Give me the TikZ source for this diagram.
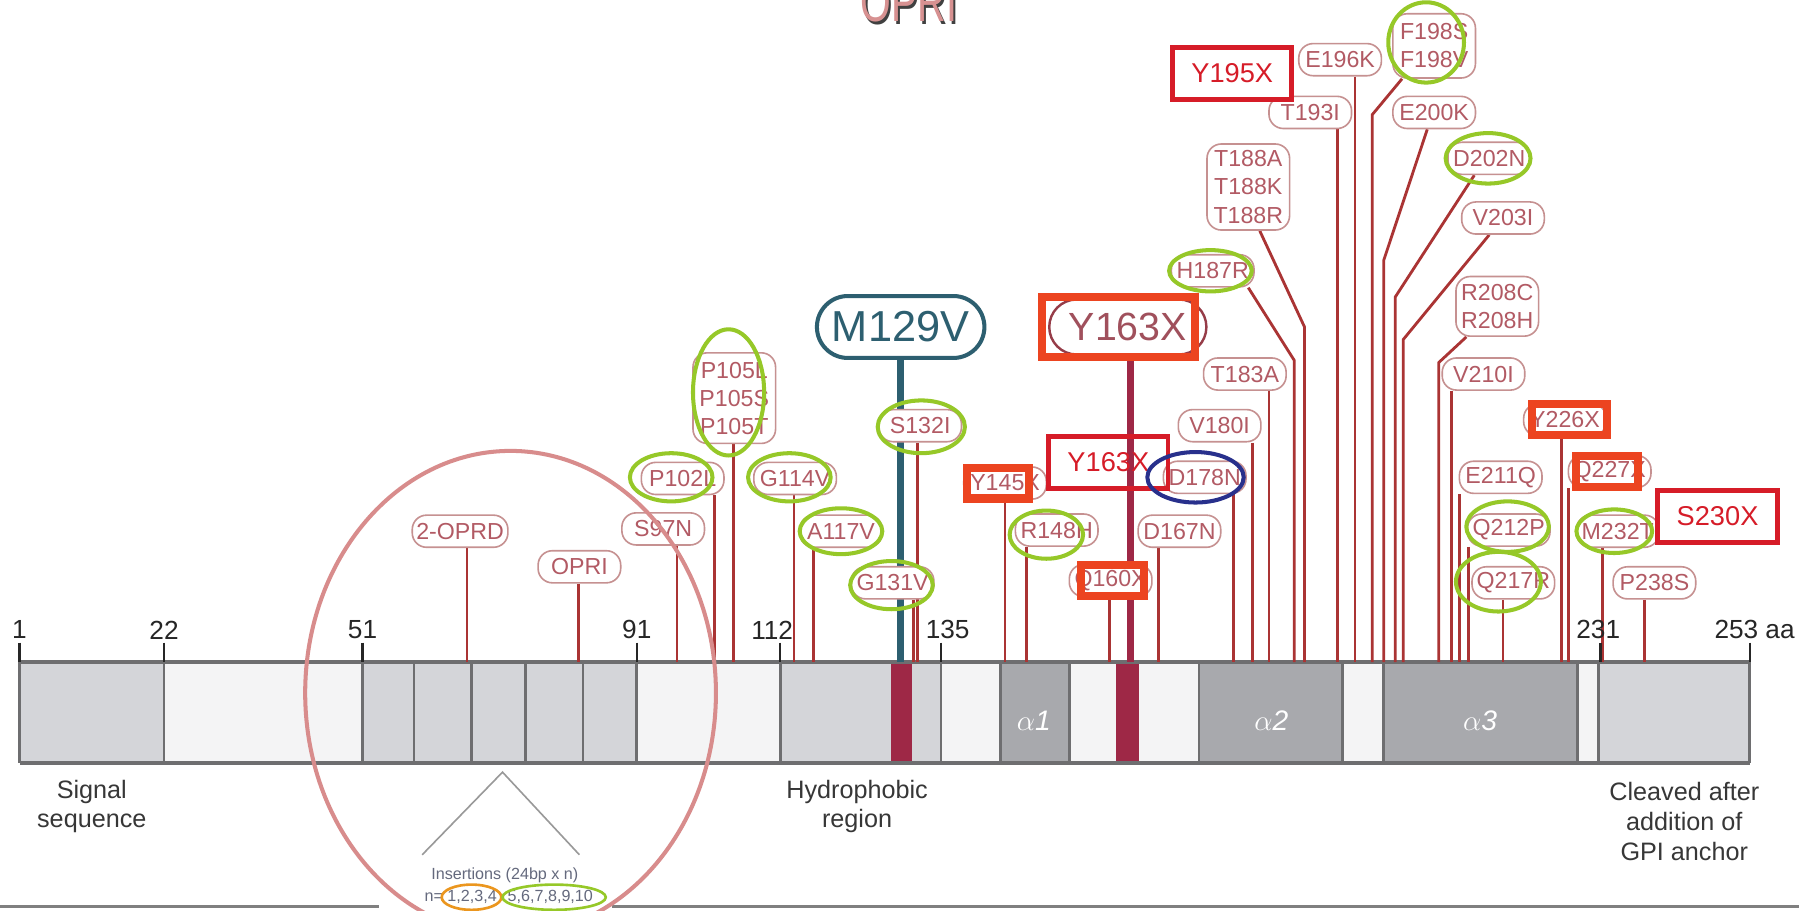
\documentclass[tikz,border=0pt]{standalone}
\usepackage{fontspec}
\setmainfont{Liberation Sans}
\usepackage{tikz}
\usetikzlibrary{positioning}
\pgfdeclarelayer{bg}
\pgfsetlayers{bg,main}
\definecolor{labline}{RGB}{198,145,145}
\definecolor{labtext}{RGB}{178,90,100}
\definecolor{stemred}{RGB}{170,52,52}
\definecolor{limegreen}{RGB}{150,200,40}
\definecolor{hotred}{RGB}{236,68,32}
\definecolor{boxred}{RGB}{214,28,40}
\definecolor{tealdark}{RGB}{45,95,112}
\definecolor{navyblue}{RGB}{40,48,140}
\definecolor{crimsonband}{RGB}{158,40,70}
\definecolor{rosering}{RGB}{216,140,140}
\definecolor{titlepink}{RGB}{215,145,145}
\definecolor{y163line}{RGB}{150,60,72}
\definecolor{y163text}{RGB}{160,80,92}
\definecolor{segA}{RGB}{212,213,217}
\definecolor{segB}{RGB}{244,244,245}
\definecolor{segC}{RGB}{168,169,173}
\definecolor{barline}{RGB}{110,110,112}
\definecolor{inktext}{RGB}{55,55,55}
\definecolor{insgrey}{RGB}{100,105,125}
\definecolor{insorange}{RGB}{235,150,30}
\tikzset{
  mut/.style={draw=labline, line width=0.8pt, rounded corners=2.5mm, fill=white, text=labtext, font=\fontsize{11.5}{13.9}\selectfont, minimum width=#1, minimum height=0.56cm, inner xsep=2pt, inner ysep=1pt, align=center},
  mut/.default=1.44cm,
  stem/.style={draw=stemred, line width=1.4pt},
  hilite/.style={draw=limegreen, line width=2pt},
  hotframe/.style={draw=hotred, line width=4pt, minimum width=#1, minimum height=0.54cm, inner sep=0pt},
  hotframe/.default=1.08cm,
  redbox/.style={draw=boxred, line width=2.4pt, fill=white, text=boxred, font=\fontsize{13.5}{15}\selectfont, minimum width=2.08cm, minimum height=0.9cm},
  tickmark/.style={draw=black!85, line width=1.1pt},
  ticklab/.style={font=\fontsize{13}{14}\selectfont, text=black!85, inner sep=0pt},
  regionlab/.style={font=\fontsize{12.5}{14.7}\selectfont, text=inktext, align=center},
  helixlab/.style={font=\fontsize{14}{16}\selectfont\itshape, text=white},
  instext/.style={font=\fontsize{8}{9}\selectfont, text=insgrey, inner sep=1pt},
  insline/.style={draw=black!40, line width=0.8pt},
  divider/.style={draw=barline, line width=1.3pt},
  baredge/.style={draw=barline, line width=1.7pt},
  titlefont/.style={font=\fontsize{28}{30}\selectfont, anchor=base, inner sep=0pt},
}

\begin{document}
\begin{tikzpicture}[x=0.02cm, y=-0.02cm]
  \useasboundingbox (0,0) rectangle (1568,794);

  % title, cut at the top
  \node[titlefont, text=black!75] (title-sh) at (794,21) {\scalebox{0.7}[1]{OPRI}};
  \node[titlefont, text=titlepink] (title) at (792,19) {\scalebox{0.7}[1]{OPRI}};

  % protein bar
  \begin{pgfonlayer}{bg}
    \fill[white] (0,0) rectangle (1568,794);
    \foreach \a/\b/\c in {17/143/segA, 143/316/segB, 316/555/segA, 555/680/segB,
        680/777/segA, 777/795/crimsonband, 795/820/segA, 820/872/segB, 872/932/segC,
        932/973/segB, 973/993/crimsonband, 993/1045/segB, 1045/1170/segC,
        1170/1206/segB, 1206/1375/segC, 1375/1393/segB, 1393/1525/segA}
      \fill[\c] (\a,577) rectangle (\b,665);
    \foreach \x in {17,143,316,361,411,458,508,555,680,820,872,932,1045,1170,1206,1375,1393,1525}
      \draw[divider] (\x,577) -- (\x,665);
    \draw[baredge, line width=2.3pt] (17,577) -- (1525,577);
    \draw[baredge] (17,665) -- (1525,665);
  \end{pgfonlayer}

  % residue ticks
  \foreach \x/\t/\lx in {17/1/17, 143/22/143, 316/51/316, 555/91/555, 680/112/673, 820/135/826, 1395/231/1393}{
    \draw[tickmark] (\x,560) -- (\x,577);
    \node[ticklab] (tk\t) at (\lx,549) {\t};
  }
  \draw[tickmark] (1525,560) -- (1525,577);
  \node[ticklab, anchor=west] (tk253) at (1494,549) {253 aa};

  \foreach \x/\k in {901/1, 1108/2, 1290/3}
    \node[helixlab] (a\k) at (\x,628) {$\alpha$\k};

  \node[regionlab] (sig) at (80,703) {Signal\\sequence};
  \node[regionlab] (hyd) at (747,703) {Hydrophobic\\region};
  \node[regionlab] (gpi) at (1468,716) {Cleaved after\\addition of\\GPI anchor};

  % mutations with straight stems
  \foreach \nm/\txt/\x/\y/\sx in {
      prd/2-OPRD/401/463/407, opri/OPRI/505/494/504, s97n/S97N/578/461/590,
      p102l/P102L/595/417/623, g114v/G114V/693/417/692, a117v/A117V/733/463/709,
      g131v/G131V/778/508/796, s132i/S132I/802/371/800, y145x/Y145X/876/421/876,
      r148h/R148H/921/462/895, q160x/Q160X/968/506/967, d167n/D167N/1028/463/1010,
      d178n/D178N/1050/416/1075, v180i/V180I/1063/371/1092, t183a/T183A/1085/326/1106,
      t193i/T193I/1142/98/1166, e196k/E196K/1168/52/1181, v210i/V210I/1293/326/1265,
      e211q/E211Q/1308/416/1272, q212p/Q212P/1315/462/1280, q217r/Q217R/1319/508/1310,
      y226x/Y226X/1364/366/1361, q227x/Q227X/1403/411/1367, m232t/M232T/1410/463/1397,
      p238s/P238S/1442/508/1433}{
    \node[mut] (\nm) at (\x,\y) {\txt};
    \coordinate (\nm-b) at (\sx,577);
    \begin{pgfonlayer}{bg}
      \draw[stem] (\nm.south -| \nm-b) -- (\nm-b);
    \end{pgfonlayer}
  }

  % stacked labels and bent stems
  \node[mut, minimum height=1.58cm] (p105) at (640,347) {P105L\\P105S\\P105T};
  \node[mut] (h187r) at (1057,236) {H187R};
  \node[mut, minimum height=1.5cm] (t188) at (1088,163) {T188A\\T188K\\T188R};
  \node[mut, minimum height=1.12cm] (f198) at (1250,40) {F198S\\F198V};
  \node[mut] (e200k) at (1250,98) {E200K};
  \node[mut] (d202n) at (1298,138) {D202N};
  \node[mut] (v203i) at (1310,190) {V203I};
  \node[mut, minimum height=1.04cm] (r208) at (1305,267) {R208C\\R208H};
  \coordinate (p105-b) at (639,577);
  \coordinate (h187r-b) at (1128,577);
  \coordinate (t188-b) at (1137,577);
  \coordinate (f198-b) at (1196,577);
  \coordinate (e200k-b) at (1206,577);
  \coordinate (d202n-b) at (1216,577);
  \coordinate (v203i-b) at (1223,577);
  \coordinate (r208-b) at (1254,577);
  \begin{pgfonlayer}{bg}
    \draw[stem] (p105.south -| p105-b) -- (p105-b);
    \draw[stem] ([xshift=0.62cm]h187r.south) -- (1128,314) -- (h187r-b);
    \draw[stem] ([xshift=0.2cm]t188.south) -- (1137,285) -- (t188-b);
    \draw[stem] ([xshift=-0.56cm]f198.south) -- (1196,100) -- (f198-b);
    \draw[stem] ([xshift=-0.12cm]e200k.south) -- (1206,227) -- (e200k-b);
    \draw[stem] ([xshift=-0.26cm]d202n.south) -- (1216,259) -- (d202n-b);
    \draw[stem] ([xshift=-0.24cm]v203i.south) -- (1223,296) -- (v203i-b);
    \draw[stem] ([xshift=-0.54cm]r208.south) -- (1254,316) -- (r208-b);
  \end{pgfonlayer}

  % M129V and Y163X
  \node[mut=2.92cm, minimum height=1.08cm, draw=tealdark, line width=2pt, text=tealdark,
        rounded corners=5.4mm, font=\fontsize{21.5}{24}\selectfont] (m129v) at (785,285) {M129V};
  \node[mut=2.74cm, minimum height=0.96cm, draw=y163line, line width=1.2pt, text=y163text,
        rounded corners=4.8mm, font=\fontsize{19.5}{22}\selectfont] (y163x) at (983,285) {Y163X};
  \node[hotframe=2.66cm, minimum height=1.06cm] (y163x-f) at (975,285) {};
  \coordinate (m129v-b) at (785,577);
  \coordinate (y163x-b) at (985,577);
  \begin{pgfonlayer}{bg}
    \draw[draw=tealdark, line width=3.4pt] (m129v.south) -- (m129v-b);
    \draw[draw=crimsonband, line width=3.4pt] (y163x-f.south -| y163x-b) -- (y163x-b);
  \end{pgfonlayer}

  % stop codon frames
  \foreach \nm/\x/\y/\w in {y145x/870/421/1.08cm, q160x/970/506/1.1cm, y226x/1368/366/1.32cm, q227x/1401/411/1.08cm}
    \node[hotframe=\w] (\nm-f) at (\x,\y) {};
  \node[redbox] (y195x) at (1074,64) {Y195X};
  \node[redbox, minimum width=2.1cm] (s230x) at (1497,450) {S230X};
  \node[redbox, fill=none] (y163xb) at (966,403) {Y163X};

  % highlighted variants
  \foreach \cx/\cy/\rx/\ry in {585/416/36/21, 635/342/31/55, 688/416/36/21, 733/463/36/20,
      777/510/36/21, 803/372/38/23, 912/466/32/21, 1055/236/36/18, 1243/37/33/35,
      1297/138/37/22, 1314/459/36/22, 1306/507/37/26, 1407/463/33/19}
    \draw[hilite] (\cx,\cy) ellipse [x radius=\rx, y radius=\ry];
  \draw[draw=navyblue, line width=2pt] (1042,416) ellipse [x radius=42, y radius=22];

  % octarepeat insertions
  \coordinate (tri) at (438,673);
  \coordinate (tri-l) at (368,745);
  \coordinate (tri-r) at (505,745);
  \draw[insline] (tri-l) -- (tri) -- (tri-r);
  \node[instext] (ins) at (440,763) {Insertions (24bp x n)};
  \node[instext, anchor=west] (insa) at (368,782) {n= 1,2,3,4};
  \node[instext, right=3pt of insa] (insb) {5,6,7,8,9,10};
  \draw[draw=insorange, line width=1.3pt] (411,782) ellipse [x radius=26, y radius=11];
  \draw[draw=limegreen, line width=1.3pt] (483,782) ellipse [x radius=45, y radius=11];

  \draw[draw=black!50, line width=1.7pt] (0,790) -- (330,790);
  \draw[draw=black!50, line width=1.7pt] (533,790) -- (1568,790);
  \draw[draw=rosering, line width=2pt] (445,604) ellipse [x radius=179, y radius=211];
\end{tikzpicture}
\end{document}
